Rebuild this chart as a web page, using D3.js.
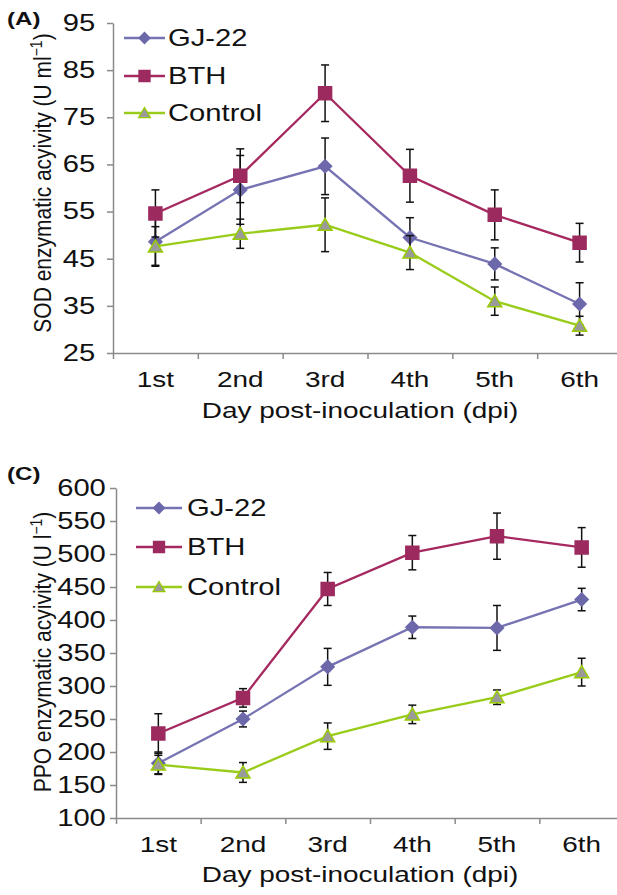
<!DOCTYPE html>
<html>
<head>
<meta charset="utf-8">
<script src="https://cdn.jsdelivr.net/npm/d3@7"></script>
<style>
  body { margin: 0; background: #fff; }
  svg { display: block; font-family: "Liberation Sans", Arial, sans-serif; }
</style>
</head>
<body>
<div id="chart"></div>
<script>
// categories
var days = ["1st", "2nd", "3rd", "4th", "5th", "6th"];
var seriesNames = ["GJ-22", "BTH", "Control"];

// (A) SOD values and error bars
var sodGJ = [48.6, 59.6, 64.6, 49.5, 43.9, 35.4];
var sodGJErr = [5.0, 7.3, 6.0, 4.2, 3.4, 4.5];
var sodBTH = [54.6, 62.6, 80.1, 62.6, 54.3, 48.4];
var sodBTHErr = [5.0, 5.7, 6.0, 5.6, 5.3, 4.1];
var sodCtrl = [47.6, 50.3, 52.2, 46.3, 36.0, 30.8];
var sodCtrlErr = [4.2, 3.1, 5.7, 3.6, 3.0, 2.0];
var sodTicks = [25, 35, 45, 55, 65, 75, 85, 95];

// (C) PPO values and error bars
var ppoGJ = [183, 250, 329, 389, 388, 431];
var ppoGJErr = [17, 12, 28, 17, 34, 17];
var ppoBTH = [228, 282, 447, 502, 527, 510];
var ppoBTHErr = [30, 14, 25, 26, 35, 30];
var ppoCtrl = [181, 169, 224, 257, 283, 321];
var ppoCtrlErr = [14, 15, 20, 14, 11, 21];
var ppoTicks = [100, 150, 200, 250, 300, 350, 400, 450, 500, 550, 600];

var w = 617, h = 895;
var stretch = 1.27; // the text in the figure is drawn wide

// colours per series
var lineColor = {"GJ-22": "#7673b3", "BTH": "#a5285f", "Control": "#99cc1a"};
var markFill = {"GJ-22": "#6c68aa", "BTH": "#9c2a5f", "Control": "#9a9a9a"};
var markStroke = {"GJ-22": "#6c68aa", "BTH": "#9c2a5f", "Control": "#99cc00"};
var markPath = {
  "GJ-22": "M0,-6.5L6.5,0L0,6.5L-6.5,0Z",
  "BTH": "M-6.5,-6.5L6.5,-6.5L6.5,6.5L-6.5,6.5Z",
  "Control": "M0,-6.5L7,5.5L-7,5.5Z"
};

var svg = d3.select("#chart").append("svg")
  .attr("width", w)
  .attr("height", h);

svg.append("rect").attr("width", w).attr("height", h).attr("fill", "#fff");

// helper for the wide text
function wideText(g, x, y, str, size, anchor, weight) {
  return g.append("text")
    .attr("transform", "translate(" + x + "," + y + ") scale(" + stretch + ",1)")
    .attr("font-size", size)
    .attr("font-weight", weight || "normal")
    .attr("text-anchor", anchor || "start")
    .attr("fill", "#111")
    .text(str);
}

function drawPanel(cfg) {
  var g = svg.append("g");

  var y = d3.scaleLinear().domain(cfg.yDomain).range(cfg.yRange);
  var x = d3.scaleBand().domain(days).range(cfg.xRange).paddingInner(0).paddingOuter(0);
  var xEdge = d3.scaleLinear().domain([0, days.length]).range(cfg.xRange);
  var cx = function(i) { return x(days[i]) + x.bandwidth() / 2; };

  // y axis
  var yAxis = g.append("g")
    .attr("transform", "translate(" + cfg.xRange[0] + ",0)")
    .call(d3.axisLeft(y).tickValues(cfg.yTicks).tickSize(6).tickSizeOuter(0).tickPadding(cfg.tickPad));
  yAxis.select(".domain").attr("stroke", "#8a8a8a").attr("stroke-width", 1.5);
  yAxis.selectAll(".tick line").attr("stroke", "#8a8a8a").attr("stroke-width", 1.5);
  yAxis.selectAll(".tick text")
    .attr("font-size", 23)
    .attr("fill", "#111")
    .attr("font-family", "Liberation Sans, Arial, sans-serif")
    .attr("transform", "scale(" + stretch + ",1)");

  // x axis: boundary ticks
  var xTicks = g.append("g")
    .attr("transform", "translate(0," + cfg.yRange[0] + ")")
    .call(d3.axisBottom(xEdge).tickValues(d3.range(days.length + 1)).tickSize(6).tickSizeOuter(0).tickFormat(""));
  xTicks.select(".domain").attr("stroke", "#8a8a8a").attr("stroke-width", 1.5);
  xTicks.selectAll(".tick line").attr("stroke", "#8a8a8a").attr("stroke-width", 1.5);

  // x axis: category labels
  var xLab = g.append("g")
    .attr("transform", "translate(0," + cfg.yRange[0] + ")")
    .call(d3.axisBottom(x).tickSize(0).tickPadding(cfg.xPad));
  xLab.select(".domain").remove();
  xLab.selectAll(".tick text")
    .attr("font-size", 22)
    .attr("fill", "#111")
    .attr("font-family", "Liberation Sans, Arial, sans-serif")
    .attr("transform", "scale(" + stretch + ",1)");

  // x title
  wideText(g, cfg.xTitleX, cfg.xTitleY, "Day post-inoculation (dpi)", 22, "middle");

  // y title (rotated, with superscript)
  var yt = g.append("text")
    .attr("transform", "translate(" + cfg.yTitleX + "," + cfg.yTitleY + ") rotate(-90) scale(1,1.12)")
    .attr("font-size", 21)
    .attr("text-anchor", "middle")
    .attr("fill", "#111");
  yt.append("tspan").text(cfg.yTitle);
  yt.append("tspan").attr("font-size", 14).attr("dy", -8).text("\u22121");
  yt.append("tspan").attr("dy", 8).text(")");

  // panel letter
  wideText(g, cfg.letterX, cfg.letterY, cfg.letter, 19, "start", "bold");

  // series
  cfg.series.forEach(function(s) {
    var name = s.name;
    var pts = s.values.map(function(v, i) { return {i: i, v: v, e: s.err[i]}; });

    // error bars
    var eb = g.append("g").attr("stroke", "#111").attr("stroke-width", 1.5).attr("fill", "none");
    eb.selectAll("line.v").data(pts).enter().append("line")
      .attr("x1", function(d) { return cx(d.i); })
      .attr("x2", function(d) { return cx(d.i); })
      .attr("y1", function(d) { return y(d.v + d.e); })
      .attr("y2", function(d) { return y(d.v - d.e); });
    eb.selectAll("line.t").data(pts).enter().append("line")
      .attr("x1", function(d) { return cx(d.i) - 4; })
      .attr("x2", function(d) { return cx(d.i) + 4; })
      .attr("y1", function(d) { return y(d.v + d.e); })
      .attr("y2", function(d) { return y(d.v + d.e); });
    eb.selectAll("line.b").data(pts).enter().append("line")
      .attr("x1", function(d) { return cx(d.i) - 4; })
      .attr("x2", function(d) { return cx(d.i) + 4; })
      .attr("y1", function(d) { return y(d.v - d.e); })
      .attr("y2", function(d) { return y(d.v - d.e); });

    // line
    var line = d3.line().x(function(d) { return cx(d.i); }).y(function(d) { return y(d.v); });
    g.append("path")
      .datum(pts)
      .attr("d", line)
      .attr("fill", "none")
      .attr("stroke", lineColor[name])
      .attr("stroke-width", 2.3);

    // markers
    g.selectAll(null).data(pts).enter().append("path")
      .attr("d", markPath[name])
      .attr("transform", function(d) { return "translate(" + cx(d.i) + "," + y(d.v) + ")"; })
      .attr("fill", markFill[name])
      .attr("stroke", markStroke[name])
      .attr("stroke-width", 1.5);
  });

  // legend
  var lg = cfg.legend;
  seriesNames.forEach(function(name, k) {
    var ly = lg.ys[k];
    g.append("line")
      .attr("x1", lg.x0).attr("x2", lg.x1)
      .attr("y1", ly).attr("y2", ly)
      .attr("stroke", lineColor[name])
      .attr("stroke-width", 2.3);
    g.append("path")
      .attr("d", markPath[name])
      .attr("transform", "translate(" + ((lg.x0 + lg.x1) / 2) + "," + ly + ") scale(0.85)")
      .attr("fill", markFill[name])
      .attr("stroke", markStroke[name])
      .attr("stroke-width", 1.5);
    wideText(g, lg.tx, ly + 8, name, 23, "start");
  });
}

drawPanel({
  letter: "(A)", letterX: 7, letterY: 25,
  yDomain: [25, 95], yRange: [353, 23], yTicks: sodTicks, tickPad: 8,
  xRange: [113, 622], xPad: 18,
  xTitleX: 360, xTitleY: 418,
  yTitle: "SOD enzymatic acyivity (U ml", yTitleX: 51, yTitleY: 183,
  legend: {x0: 124, x1: 165, tx: 168, ys: [38, 76, 113]},
  series: [
    {name: "GJ-22", values: sodGJ, err: sodGJErr},
    {name: "BTH", values: sodBTH, err: sodBTHErr},
    {name: "Control", values: sodCtrl, err: sodCtrlErr}
  ]
});

drawPanel({
  letter: "(C)", letterX: 7, letterY: 480,
  yDomain: [100, 600], yRange: [818, 488], yTicks: ppoTicks, tickPad: 2,
  xRange: [116, 624], xPad: 18,
  xTitleX: 360, xTitleY: 882,
  yTitle: "PPO enzymatic acyivity (U l", yTitleX: 51, yTitleY: 652,
  legend: {x0: 136, x1: 182, tx: 187, ys: [508, 547, 587]},
  series: [
    {name: "GJ-22", values: ppoGJ, err: ppoGJErr},
    {name: "BTH", values: ppoBTH, err: ppoBTHErr},
    {name: "Control", values: ppoCtrl, err: ppoCtrlErr}
  ]
});
</script>
</body>
</html>
